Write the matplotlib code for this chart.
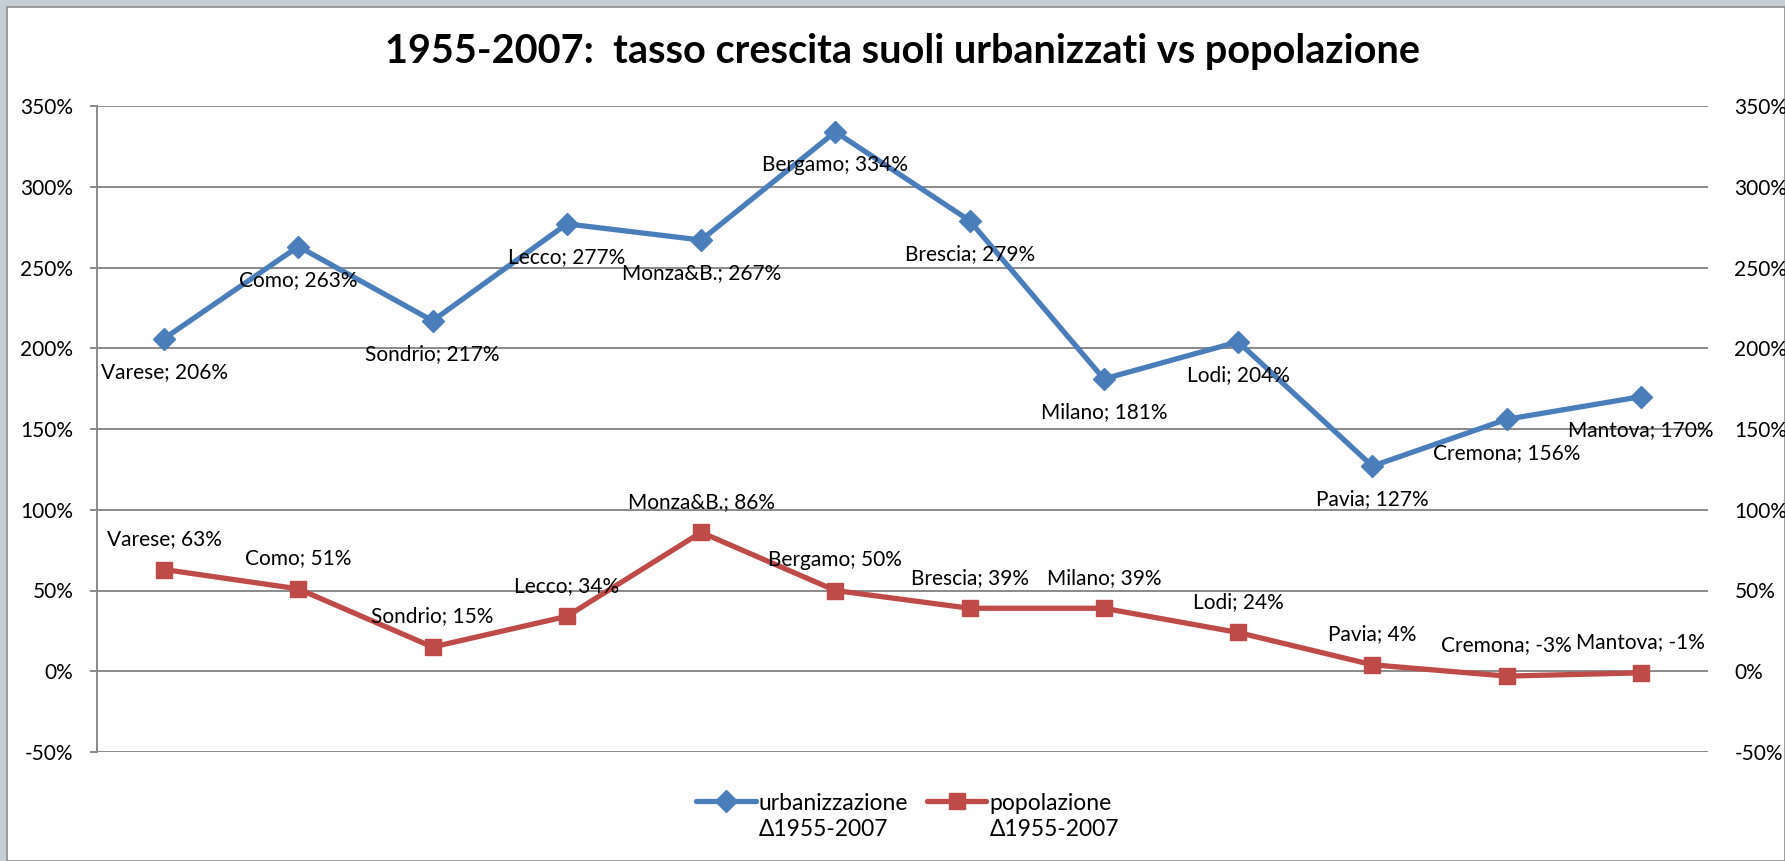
import matplotlib
matplotlib.use("Agg")
import matplotlib.pyplot as plt
from matplotlib.patches import Rectangle
from matplotlib.ticker import FuncFormatter, MultipleLocator

plt.rcParams['font.family'] = ['Lato', 'DejaVu Sans']

provinces = ["Varese", "Como", "Sondrio", "Lecco", "Monza&B.", "Bergamo",
             "Brescia", "Milano", "Lodi", "Pavia", "Cremona", "Mantova"]
urbanizzazione = [206, 263, 217, 277, 267, 334, 279, 181, 204, 127, 156, 170]
popolazione = [63, 51, 15, 34, 86, 50, 39, 39, 24, 4, -3, -1]
series_names = ["urbanizzazione", "popolazione"]
series_sub = "\u03941955-2007"
title = "1955-2007:  tasso crescita suoli urbanizzati vs popolazione"

W, H = 1785, 861
fig = plt.figure(figsize=(W / 100, H / 100), dpi=100, facecolor="#c5ced4")
bg = Rectangle((7 / W, 0), 1 - 7 / W, 1 - 7 / H, transform=fig.transFigure,
               facecolor="white", edgecolor="#8c8c8c", linewidth=1.2, zorder=-10)
fig.add_artist(bg)

ax = fig.add_axes([97 / W, 1 - 752 / H, (1708 - 97) / W, (752 - 106) / H])
ax.set_facecolor("none")
x = list(range(len(provinces)))
blue, red = "#4A7EBB", "#BE4B48"
ax.plot(x, urbanizzazione, color=blue, lw=3.8, marker="D", ms=11, zorder=3,
        solid_capstyle="round", label=series_names[0])
ax.plot(x, popolazione, color=red, lw=3.8, marker="s", ms=12, zorder=3,
        solid_capstyle="round", label=series_names[1])

for xi, name, v in zip(x, provinces, urbanizzazione):
    ax.annotate(f"{name}; {v}%", (xi, v), xytext=(0, -24), textcoords="offset points",
                ha="center", va="center", fontsize=15, color="black", zorder=4)
for xi, name, v in zip(x, provinces, popolazione):
    ax.annotate(f"{name}; {v}%", (xi, v), xytext=(0, 22), textcoords="offset points",
                ha="center", va="center", fontsize=15, color="black", zorder=4)

ax.set_xlim(-0.5, len(provinces) - 0.5)
ax.set_ylim(-50, 350)
ax.yaxis.set_major_locator(MultipleLocator(50))
fmt = FuncFormatter(lambda v, p: f"{v:.0f}%")
ax.yaxis.set_major_formatter(fmt)
ax.grid(axis="y", color="#8a8a8a", lw=1.4, zorder=1)
ax.set_axisbelow(True)
ax.set_xticks([])
for s in ["top", "right", "bottom"]:
    ax.spines[s].set_visible(False)
ax.spines["left"].set_color("#8a8a8a")
ax.spines["left"].set_linewidth(1.4)
ax.tick_params(axis="y", length=5, width=1.4, color="#8a8a8a", labelsize=15, pad=12)

ax2 = ax.twinx()
ax2.set_ylim(-50, 350)
ax2.yaxis.set_major_locator(MultipleLocator(50))
ax2.yaxis.set_major_formatter(fmt)
for s in ["top", "right", "bottom", "left"]:
    ax2.spines[s].set_visible(False)
ax2.tick_params(axis="y", length=0, labelsize=15, pad=19)

fig.text(902 / W, 1 - 52 / H, title, ha="center", va="center", fontsize=28.5,
         fontweight="bold", color="black")

leg = fig.legend(handles=ax.get_lines(), labels=series_names, loc="center",
                 bbox_to_anchor=(904 / W, 1 - 803 / H), ncol=2, frameon=False,
                 fontsize=16.5, handlelength=2.6, columnspacing=0.8, handletextpad=0.15)
fig.canvas.draw()
inv = fig.transFigure.inverted()
for t in leg.get_texts():
    bb = t.get_window_extent()
    x0, y0 = inv.transform((bb.x0, bb.y0))
    fig.text(x0, y0 - 6 / H, series_sub, ha="left", va="top", fontsize=16.5, color="black")

fig.savefig("out.png", dpi=100, facecolor=fig.get_facecolor())
